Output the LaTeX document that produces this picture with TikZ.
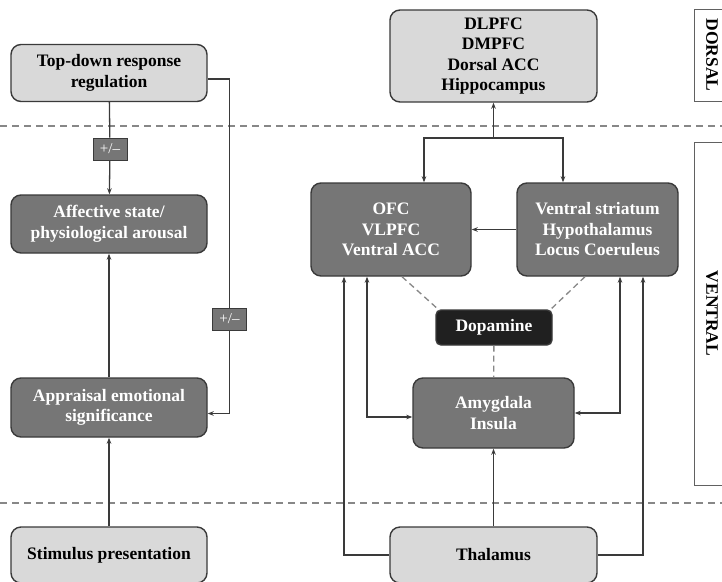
\documentclass[tikz,border=0pt]{standalone}
\usepackage{fontspec}
\setmainfont{Liberation Serif}
\definecolor{boxlight}{RGB}{217,217,217}
\definecolor{boxdark}{RGB}{118,118,118}
\definecolor{boxblack}{RGB}{32,32,32}
\definecolor{boxedge}{RGB}{58,58,58}
\definecolor{sepgray}{RGB}{135,135,135}
\usetikzlibrary{arrows.meta,positioning}

\begin{document}
\begin{tikzpicture}[
  x=1pt,y=-1pt,
  every node/.style={font=\fontsize{17.5}{20.5}\selectfont\bfseries},
  region/.style={draw=boxedge,line width=1.4pt,rounded corners=10pt,align=center,inner sep=0pt},
  lightbox/.style={region,fill=boxlight,text=black},
  darkbox/.style={region,fill=boxdark,text=white},
  blackbox/.style={region,fill=boxblack,text=white,rounded corners=5pt},
  signbox/.style={draw=boxedge,line width=1pt,fill=boxdark,text=white,inner sep=0pt,
                  minimum width=34pt,minimum height=22pt,font=\fontsize{15}{15}\selectfont},
  sidelabel/.style={draw=boxedge!80,line width=1pt,rotate=-90,minimum height=36pt,inner sep=0pt},
  arr/.style={-{Stealth[length=6pt,width=4.5pt]},line width=1.3pt,boxedge},
  biarr/.style={{Stealth[length=6pt,width=4.5pt]}-{Stealth[length=6pt,width=4.5pt]},line width=1.3pt,boxedge},
  sep/.style={dashed,dash pattern=on 7pt off 5pt,line width=1.3pt,sepgray},
  dopa/.style={dashed,dash pattern=on 6pt off 4pt,line width=1.3pt,sepgray},
]
  \clip (0,0) rectangle (722,581);
  \fill[white] (0,0) rectangle (722,581);

  % Separators
  \draw[sep] (0,126) -- (722,126);
  \draw[sep] (0,503) -- (722,503);

  % Left column
  \node[lightbox,minimum width=196pt,minimum height=57pt] (topdown) at (109,73)
    {Top-down response\\regulation};
  \node[darkbox,minimum width=196pt,minimum height=58pt] (affect) at (109,224)
    {Affective state/\\physiological arousal};
  \node[darkbox,minimum width=196pt,minimum height=59pt] (apprais) at (109,407.5)
    {Appraisal emotional\\significance};
  \node[lightbox,minimum width=196pt,minimum height=56pt] (stim) at (109,555)
    {Stimulus presentation};
  \node[signbox] (pmtop) at (110,149) {+/--};
  \node[signbox] (pmside) at (229.5,319) {+/--};

  % Right column
  \node[lightbox,minimum width=207pt,minimum height=92pt] (dorsal) at (493.5,56)
    {DLPFC\\DMPFC\\Dorsal ACC\\Hippocampus};
  \node[darkbox,minimum width=160pt,minimum height=93pt] (ofc) at (391,229.5)
    {OFC\\VLPFC\\Ventral ACC};
  \node[darkbox,minimum width=161pt,minimum height=93pt] (vstr) at (597.5,229.5)
    {Ventral striatum\\Hypothalamus\\Locus Coeruleus};
  \node[blackbox,minimum width=116pt,minimum height=35pt] (dopamine) at (494,327.5)
    {Dopamine};
  \node[darkbox,minimum width=161pt,minimum height=70pt] (amyg) at (493.5,413)
    {Amygdala\\Insula};
  \node[lightbox,minimum width=207pt,minimum height=56pt] (thal) at (493.5,555)
    {Thalamus};

  % Side labels
  \node[sidelabel,minimum width=92pt] (dorsallbl) at (712,55) {DORSAL};
  \node[sidelabel,minimum width=343pt] (ventrallbl) at (712,313.5) {VENTRAL};

  % Left arrows
  \draw[line width=1.3pt,boxedge] (topdown) -- (pmtop);
  \draw[arr] (pmtop) -- (affect);
  \draw[arr] (apprais) -- (affect);
  \draw[arr] (stim) -- (apprais);
  \draw[line width=1.3pt,boxedge] ([yshift=-6pt]topdown.east) -| (pmside.north);
  \draw[arr] (pmside.south) |- ([yshift=-6pt]apprais.east);

  % Right arrows
  \coordinate (split) at (493.5,138);
  \draw[arr] (split) -- (dorsal);
  \draw[arr] (split) -| ([xshift=33pt]ofc.north);
  \draw[arr] (split) -| ([xshift=-34.5pt]vstr.north);
  \draw[arr] (vstr) -- (ofc);
  \draw[arr] (thal) -- (amyg);
  \draw[arr] (thal.west) -| ([xshift=-47pt]ofc.south);
  \draw[arr] (thal.east) -| ([xshift=45.5pt]vstr.south);
  \draw[biarr] ([xshift=-24pt]ofc.south) |- ([yshift=-4pt]amyg.west);
  \draw[biarr] ([xshift=22.5pt]vstr.south) |- (amyg.east);

  % Dopamine links
  \draw[dopa] ([xshift=11pt]ofc.south) -- ([xshift=4pt,yshift=-1pt]dopamine.north west);
  \draw[dopa] ([xshift=-12.5pt]vstr.south) -- ([xshift=-3pt,yshift=-1pt]dopamine.north east);
  \draw[dopa] (dopamine) -- (amyg);
\end{tikzpicture}
\end{document}
